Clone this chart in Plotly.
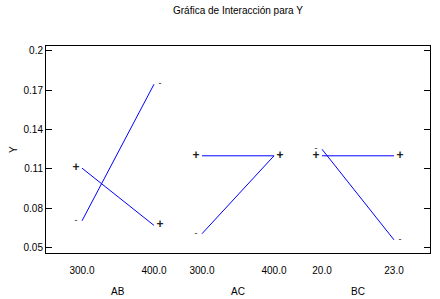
import plotly.graph_objects as go

# ---- data ----
factors = ["AB", "AC", "BC"]
low_labels = ["300.0", "300.0", "20.0"]
high_labels = ["400.0", "400.0", "23.0"]
minus_low = [0.0705, 0.0607, 0.125]
minus_high = [0.1745, 0.120, 0.056]
plus_low = [0.1106, 0.120, 0.120]
plus_high = [0.067, 0.120, 0.120]
y_ticks = [0.05, 0.08, 0.11, 0.14, 0.17, 0.2]

FONT = "Liberation Sans Narrow, Arial Narrow, Arial, Liberation Sans, sans-serif"
HALF = 0.3      # half-distance between low/high levels within a panel
MOFF = 0.05     # offset of level markers outside the line ends

fig = go.Figure()
tickvals, ticktext = [], []
for i, f in enumerate(factors):
    xl, xh = i - HALF, i + HALF
    tickvals += [xl, xh]
    ticktext += [low_labels[i], high_labels[i]]
    for lo, hi in ((minus_low[i], minus_high[i]), (plus_low[i], plus_high[i])):
        fig.add_trace(go.Scatter(x=[xl, xh], y=[lo, hi], mode="lines",
                                 line=dict(color="#0000FF", width=1),
                                 hoverinfo="skip", showlegend=False))
    fig.add_trace(go.Scatter(x=[xl - MOFF, xh + MOFF], y=[plus_low[i], plus_high[i]],
                             mode="text", text=["<b>+</b>", "<b>+</b>"],
                             textfont=dict(family="Arial, sans-serif", size=12, color="#222"),
                             hoverinfo="skip", showlegend=False))
    fig.add_trace(go.Scatter(x=[xl - MOFF, xh + MOFF], y=[minus_low[i], minus_high[i]],
                             mode="text", text=["-", "-"],
                             textfont=dict(family="Arial, sans-serif", size=9, color="#222"),
                             hoverinfo="skip", showlegend=False))
    fig.add_annotation(x=i, y=-0.184, xref="x", yref="paper", text=f,
                       showarrow=False, font=dict(family=FONT, size=10, color="black"),
                       yanchor="middle")

fig.add_annotation(x=-0.104, y=0.5, xref="paper", yref="paper", text="Y",
                   textangle=-90, showarrow=False,
                   font=dict(family=FONT, size=10, color="black"))

fig.update_layout(
    template="none",
    width=440, height=299,
    margin=dict(l=46, r=10, t=46, b=46),
    paper_bgcolor="white", plot_bgcolor="white",
    font=dict(family=FONT, size=10, color="black"),
    title=dict(text="Gráfica de Interacción para Y", x=0.5408, xanchor="center",
               y=0.966, yref="container", yanchor="middle",
               font=dict(family=FONT, size=10, color="black")),
    xaxis=dict(range=[-0.6, 2.6], tickvals=tickvals, ticktext=ticktext,
               ticks="", showgrid=False, zeroline=False, automargin=False,
               showline=True, linecolor="black", linewidth=1, mirror=True,
               ticklabelstandoff=8, fixedrange=True),
    yaxis=dict(range=[0.046, 0.2036], tickvals=y_ticks,
               ticks="inside", ticklen=6, tickcolor="black", tickwidth=1,
               showgrid=False, zeroline=False, automargin=False,
               showline=True, linecolor="black", linewidth=1, mirror="ticks",
               fixedrange=True),
)

fig.write_html("out.html", config={"displayModeBar": False},
               post_script="document.body.style.margin='0';document.body.style.overflow='hidden';")
